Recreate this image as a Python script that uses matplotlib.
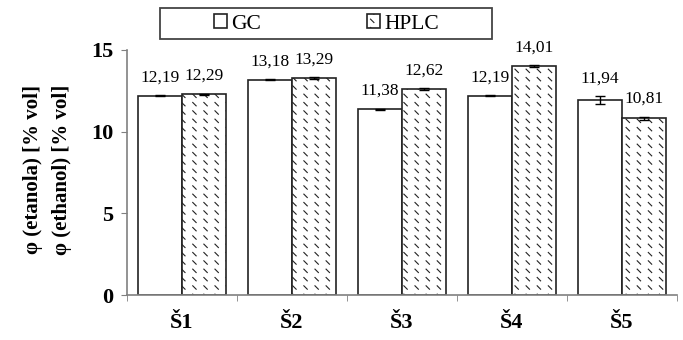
import warnings
warnings.filterwarnings('ignore')
import numpy as np
import matplotlib
matplotlib.use('Agg')
import matplotlib.pyplot as plt
import matplotlib.hatch as mhatch
from matplotlib.path import Path
from matplotlib.patches import Rectangle

categories = ['Š1', 'Š2', 'Š3', 'Š4', 'Š5']
gc_values = [12.19, 13.18, 11.38, 12.19, 11.94]
hplc_values = [12.29, 13.29, 12.62, 14.01, 10.81]
gc_err = [0.03, 0.03, 0.03, 0.03, 0.22]
hplc_err = [0.04, 0.05, 0.04, 0.05, 0.10]
gc_labels = ['12,19', '13,18', '11,38', '12,19', '11,94']
hplc_labels = ['12,29', '13,29', '12,62', '14,01', '10,81']
series_names = ['GC', 'HPLC']
yticks = [0, 5, 10, 15]


class ShortBackslash(mhatch.HatchPatternBase):
    def __init__(self, hatch, density):
        if hatch.count('~'):
            self.nx = 9
            self.ny = 12
            self.num_vertices = self.nx * self.ny * 2
        else:
            self.num_vertices = 0

    def set_vertices_and_codes(self, vertices, codes):
        k = 0
        a = 0.017
        for i in range(self.nx):
            for j in range(self.ny):
                cx = (i + 0.5) / self.nx
                cy = (j + 0.5) / self.ny
                vertices[k] = (cx - a, cy + a)
                codes[k] = Path.MOVETO
                vertices[k + 1] = (cx + a, cy - a)
                codes[k + 1] = Path.LINETO
                k += 2


mhatch._hatch_types.append(ShortBackslash)

plt.rcParams['font.family'] = ['Liberation Serif', 'DejaVu Serif']
plt.rcParams['hatch.linewidth'] = 0.8
plt.rcParams['hatch.color'] = '#555555'

fig = plt.figure(figsize=(6.83, 3.40), dpi=100)
ax = fig.add_axes([0.186, 0.132, 0.805, 0.721])

x = np.arange(len(categories))
w = 0.4
ekw = dict(ecolor='black', elinewidth=1, capthick=1)
b1 = ax.bar(x - w / 2, gc_values, w, yerr=gc_err, capsize=3.5, color='white',
            edgecolor='#222222', linewidth=1.2, error_kw=ekw, label=series_names[0])
b2 = ax.bar(x + w / 2, hplc_values, w, yerr=hplc_err, capsize=3.5, color='white',
            edgecolor='#222222', linewidth=1.2, hatch='~', error_kw=ekw, label=series_names[1])

for xi, v, e, lab in zip(x - w / 2, gc_values, gc_err, gc_labels):
    ax.annotate(lab, (xi, v + e), xytext=(0, 7), textcoords='offset points',
                ha='center', va='bottom', fontsize=12.5)
for xi, v, e, lab in zip(x + w / 2, hplc_values, hplc_err, hplc_labels):
    ax.annotate(lab, (xi, v + e), xytext=(0, 7), textcoords='offset points',
                ha='center', va='bottom', fontsize=12.5)

ax.set_xlim(-0.5, len(categories) - 0.5)
ax.set_ylim(0, 15)
ax.set_yticks(yticks)
ax.set_yticklabels([str(t) for t in yticks], fontsize=16, fontweight='bold')
ax.set_xticks(x)
ax.set_xticklabels(categories, fontsize=16, fontweight='bold')
ax.set_xticks(np.arange(-0.5, len(categories)), minor=True)
ax.tick_params(axis='x', which='major', length=0, pad=13)
ax.tick_params(axis='x', which='minor', length=4.5, color='#808080', direction='out')
ax.tick_params(axis='y', length=4, color='#808080', direction='out', pad=6)

for s in ['top', 'right']:
    ax.spines[s].set_visible(False)
for s in ['left', 'bottom']:
    ax.spines[s].set_color('#808080')
    ax.spines[s].set_linewidth(1.2)

fig.text(0.049, 0.50, 'φ (etanola) [% vol]', rotation=90, ha='center', va='center',
         fontsize=15, fontweight='bold')
fig.text(0.091, 0.50, 'φ (ethanol) [% vol]', rotation=90, ha='center', va='center',
         fontsize=15, fontweight='bold')

fig.patches.append(Rectangle((0.234, 0.885), 0.486, 0.091, transform=fig.transFigure,
                             fill=False, edgecolor='#444444', linewidth=1.3))
fig.legend(handles=[b1, b2], labels=series_names, loc='center',
           bbox_to_anchor=(0.478, 0.929), ncol=2, frameon=False, fontsize=15.5,
           handlelength=0.6, handleheight=0.6, handletextpad=0.2,
           columnspacing=4.9, borderaxespad=0, borderpad=0)

fig.savefig('out.png', dpi=100)
